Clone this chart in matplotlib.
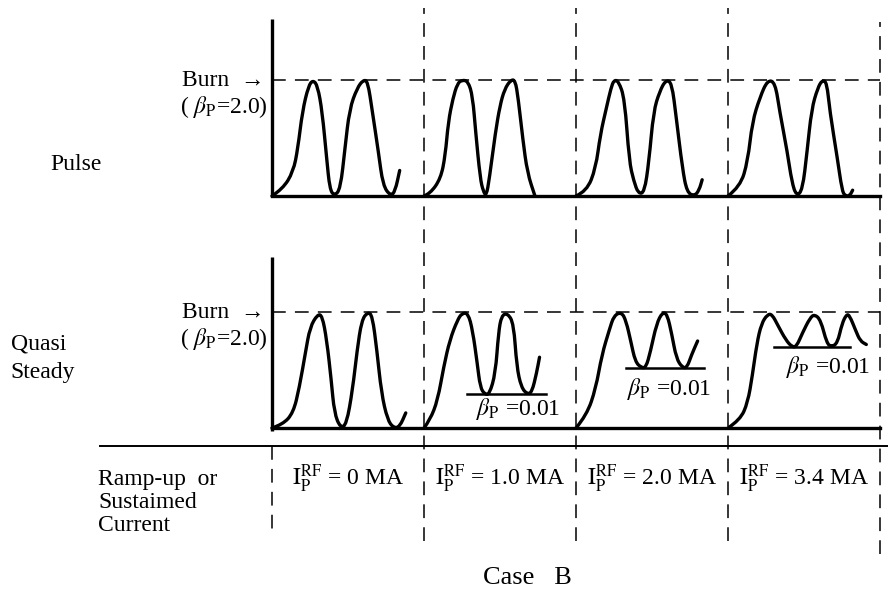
import numpy as np
import matplotlib
matplotlib.use('Agg')
import matplotlib.pyplot as plt
from matplotlib.path import Path
from matplotlib.patches import PathPatch

plt.rcParams['font.family'] = ['Liberation Serif', 'DejaVu Serif']
plt.rcParams['mathtext.fontset'] = 'stix'

# Schematic waveforms, one per case column.
# t = time in percent of a column width, a = beta_p level as fraction of burn level
pulse_t = [
    [0, 7, 14, 17, 20, 24, 27, 30, 33, 36, 38, 41, 45, 48, 51, 56, 60, 63, 66, 70, 73, 78, 81, 84],
    [0, 4, 11, 14, 16, 19, 22, 25, 29, 32, 34, 37, 39, 41, 43, 47, 50, 53, 57, 60, 62, 65, 68, 73],
    [0, 7, 13, 16, 20, 23, 25, 28, 32, 35, 38, 41, 45, 48, 51, 55, 59, 63, 66, 70, 73, 78, 81, 83],
    [0, 8, 13, 16, 21, 26, 31, 34, 39, 42, 45, 49, 52, 55, 59, 62, 65, 67, 72, 75, 77, 80, 82],
]
pulse_a = [
    [0, 0.06, 0.21, 0.41, 0.73, 0.95, 1.0, 0.95, 0.73, 0.32, 0.06, 0, 0.06, 0.41, 0.75, 0.93, 1.0, 0.99, 0.73, 0.38, 0.09, 0, 0.04, 0.22],
    [0, 0.02, 0.15, 0.35, 0.64, 0.84, 0.97, 1.0, 0.99, 0.86, 0.55, 0.15, 0.04, 0, 0.15, 0.55, 0.78, 0.92, 1.0, 1.0, 0.84, 0.49, 0.2, 0],
    [0, 0.04, 0.24, 0.53, 0.76, 0.93, 1.0, 0.99, 0.84, 0.3, 0.13, 0.02, 0.03, 0.3, 0.73, 0.9, 1.0, 0.98, 0.67, 0.24, 0.03, 0, 0.05, 0.14],
    [0, 0.08, 0.3, 0.64, 0.85, 1.0, 0.98, 0.73, 0.38, 0.12, 0, 0.05, 0.38, 0.75, 0.93, 1.0, 0.98, 0.73, 0.32, 0.05, 0, 0, 0.05],
]

quasi_t = [
    [0, 7, 14, 18, 22, 25, 30, 33, 36, 39, 41, 45, 49, 53, 56, 59, 63, 66, 69, 72, 76, 80, 84, 88],
    [0, 4, 9, 13, 17, 22, 25, 29, 32, 35, 37, 40, 43, 47, 49, 51, 55, 59, 61, 64, 68, 71, 74, 76],
    [0, 7, 13, 17, 22, 25, 30, 33, 36, 39, 43, 46, 49, 53, 57, 60, 63, 66, 70, 73, 76, 80],
    [0, 8, 13, 16, 19, 22, 26, 29, 33, 38, 42, 45, 49, 54, 57, 61, 65, 68, 72, 75, 78, 80, 84, 87, 91],
]
quasi_a = [
    [0, 0.03, 0.13, 0.35, 0.65, 0.87, 0.98, 0.97, 0.76, 0.41, 0.13, 0, 0.03, 0.33, 0.67, 0.93, 1.0, 0.97, 0.67, 0.3, 0.07, 0, 0.01, 0.13],
    [0, 0.07, 0.24, 0.53, 0.76, 0.93, 0.99, 0.99, 0.84, 0.56, 0.35, 0.29, 0.29, 0.47, 0.82, 0.97, 0.99, 0.9, 0.53, 0.35, 0.29, 0.31, 0.47, 0.61],
    [0, 0.11, 0.34, 0.63, 0.85, 0.97, 1.0, 0.92, 0.75, 0.57, 0.52, 0.52, 0.66, 0.9, 1.0, 0.98, 0.81, 0.6, 0.52, 0.52, 0.63, 0.75],
    [0, 0.07, 0.22, 0.45, 0.73, 0.9, 0.98, 0.98, 0.88, 0.76, 0.7, 0.7, 0.82, 0.95, 0.98, 0.93, 0.73, 0.7, 0.73, 0.9, 0.98, 0.97, 0.84, 0.75, 0.72],
]
# sustained floor (beta_p = 0.01) level and extent for quasi-steady cases 1..3
floor_level = [0.29, 0.52, 0.70]
floor_t0 = [28, 33, 30]
floor_t1 = [80, 84, 80]

current_MA = ['0', '1.0', '2.0', '3.4']

TOP = 2.0   # vertical offset of the pulse panel
ncol = 4


def smooth_curve(ax, x, y, **kw):
    # quadratic bezier through midpoints -> rounded pen-drawn look
    verts = [(x[0], y[0])]
    codes = [Path.MOVETO]
    for i in range(1, len(x) - 1):
        verts += [(x[i], y[i]), ((x[i] + x[i + 1]) / 2, (y[i] + y[i + 1]) / 2)]
        codes += [Path.CURVE3, Path.CURVE3]
    verts.append((x[-1], y[-1]))
    codes.append(Path.LINETO)
    ax.add_patch(PathPatch(Path(verts, codes), fill=False, **kw))


fig = plt.figure(figsize=(8.88, 5.95), dpi=100)
ax = fig.add_axes([0, 0, 1, 1])
ax.set_xlim(-272 / 152, 616 / 152)
ax.set_ylim(-167 / 116, 428 / 116)
ax.axis('off')

lw = 2.4
dash_kw = dict(color='black', lw=1.1, dashes=(9, 6))

# panel axes and baselines
ax.plot([0, 0], [TOP, TOP + 1.53], color='black', lw=lw, solid_capstyle='butt')
ax.plot([0, ncol], [TOP, TOP], color='black', lw=lw)
ax.plot([0, 0], [-0.03, 1.47], color='black', lw=lw, solid_capstyle='butt')
ax.plot([0, ncol], [0, 0], color='black', lw=lw)

# burn level
ax.plot([0, ncol], [TOP + 1, TOP + 1], **dash_kw)
ax.plot([0, ncol], [1, 1], **dash_kw)

# column separators
for c in range(1, ncol):
    ax.plot([c, c], [-0.97, 3.62], **dash_kw)
ax.plot([ncol, ncol], [-1.09, 3.5], **dash_kw)
ax.plot([0, 0], [-0.155, -0.94], **dash_kw)

# table line
ax.plot([-1.13, 4.08], [-0.155, -0.155], color='black', lw=1.4)

for c in range(ncol):
    t = c + np.array(pulse_t[c]) / 100
    smooth_curve(ax, t, TOP + np.array(pulse_a[c]), edgecolor='black', lw=lw,
                 joinstyle='round', capstyle='round')
    t = c + np.array(quasi_t[c]) / 100
    smooth_curve(ax, t, np.array(quasi_a[c]), edgecolor='black', lw=lw,
                 joinstyle='round', capstyle='round')

for i in range(3):
    c = i + 1
    ax.plot([c + floor_t0[i] / 100, c + floor_t1[i] / 100], [floor_level[i]] * 2,
            color='black', lw=1.8)

fs = 17
# left labels
for yb in (TOP + 1, 1):
    ax.text(-0.05, yb, 'Burn  \u2192', ha='right', va='center', fontsize=fs)
    ax.text(-0.03, yb - 0.23, r'( $\beta_{\mathrm{P}}$=2.0)', ha='right', va='center', fontsize=fs)
ax.text(-1.46, TOP + 0.27, 'Pulse', ha='left', va='center', fontsize=fs)
ax.text(-1.72, 0.72, 'Quasi', ha='left', va='center', fontsize=fs)
ax.text(-1.72, 0.48, 'Steady', ha='left', va='center', fontsize=fs)

# floor labels
lab_dx = [0.62, 0.61, 0.66]
lab_dy = [-0.13, -0.18, -0.17]
for i in range(3):
    ax.text(i + 1 + lab_dx[i], floor_level[i] + lab_dy[i], r'$\beta_{\mathrm{P}}$ =0.01',
            ha='center', va='center', fontsize=fs)

# table rows
ax.text(-1.145, -0.44, 'Ramp-up  or', ha='left', va='center', fontsize=fs)
ax.text(-1.145, -0.64, 'Sustaimed', ha='left', va='center', fontsize=fs)
ax.text(-1.145, -0.84, 'Current', ha='left', va='center', fontsize=fs)
for c in range(ncol):
    ax.text(c + 0.5, -0.44, r'$\mathrm{I}_{\mathrm{P}}^{\mathrm{RF}}$ = ' + current_MA[c] + ' MA',
            ha='center', va='center', fontsize=fs)

ax.text(1.68, -1.29, 'Case   B', ha='center', va='center', fontsize=19)

fig.savefig('out.png', dpi=100)
